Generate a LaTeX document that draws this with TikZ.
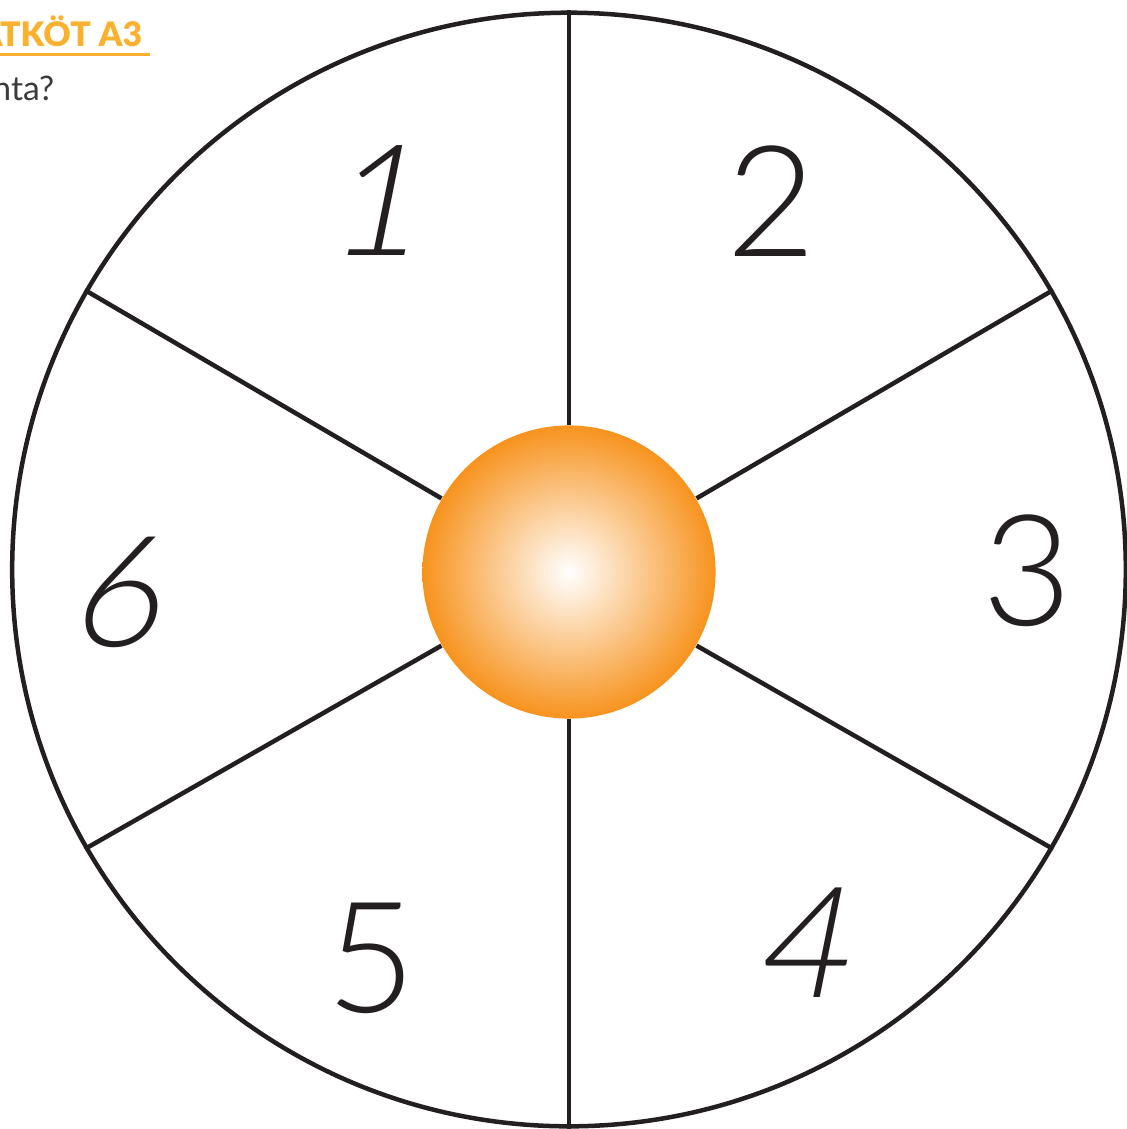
\documentclass[tikz,border=0pt]{standalone}
\usepackage{fontspec}
\setmainfont{Lato}
\newfontfamily\digitfont{Lato Light}
\newfontfamily\slantfont[FakeSlant=0.2]{Lato Light}
\newfontfamily\headfont{Lato Black}
\definecolor{ink}{HTML}{231F20}
\definecolor{hdr}{HTML}{FBB130}
\definecolor{huborange}{HTML}{F7931E}
\definecolor{txt}{HTML}{3C3C3B}
\begin{document}
\begin{tikzpicture}[x=0.01cm,y=-0.01cm,
  wheelstyle/.style={circle, draw=ink, line width=0.045cm, minimum size=11.13cm, inner sep=0pt},
  hubstyle/.style={circle, minimum size=2.93cm, inner sep=0pt, inner color=white, outer color=huborange},
  spoke/.style={draw=ink, line width=0.045cm},
  digit/.style={font=\digitfont\fontsize{44}{44}\selectfont, text=ink, inner sep=0pt},
  sdigit/.style={font=\slantfont\fontsize{44}{44}\selectfont, text=ink, inner sep=0pt},
  title/.style={font=\headfont\fontsize{9.6}{10}\selectfont, text=hdr, inner sep=0pt, anchor=base east},
  sub/.style={font=\fontsize{9.6}{10}\selectfont, text=txt, inner sep=0pt, anchor=base east}]
\useasboundingbox (0,0) rectangle (1127,1129);
\fill[white] (0,0) rectangle (1127,1129);
% header
\node[title] (head) at (143,46) {ÁTKÖT A3};
\coordinate (ulstart) at (0,54);
\coordinate (ulend) at (150,54);
\draw[hdr, line width=0.03cm] (ulstart) -- (ulend);
\node[sub] (question) at (55,100) {nta?};
% wheel
\node[wheelstyle] (wheel) at (569,569.5) {};
\node[hubstyle] (hub) at (569,572) {};
\foreach \a in {30,90,150,210,270,330}{
  \draw[spoke] (hub.\a) -- (wheel.\a);
}
% numbers
\node[sdigit] (n1) at (372,201) {1};
\node[digit] (n2) at (771,201) {2};
\node[digit] (n3) at (1027,571) {3};
\node[sdigit] (n4) at (800,943) {4};
\node[digit] (n5) at (371,958) {5};
\node[sdigit] (n6) at (114,592) {6};
\end{tikzpicture}
\end{document}
